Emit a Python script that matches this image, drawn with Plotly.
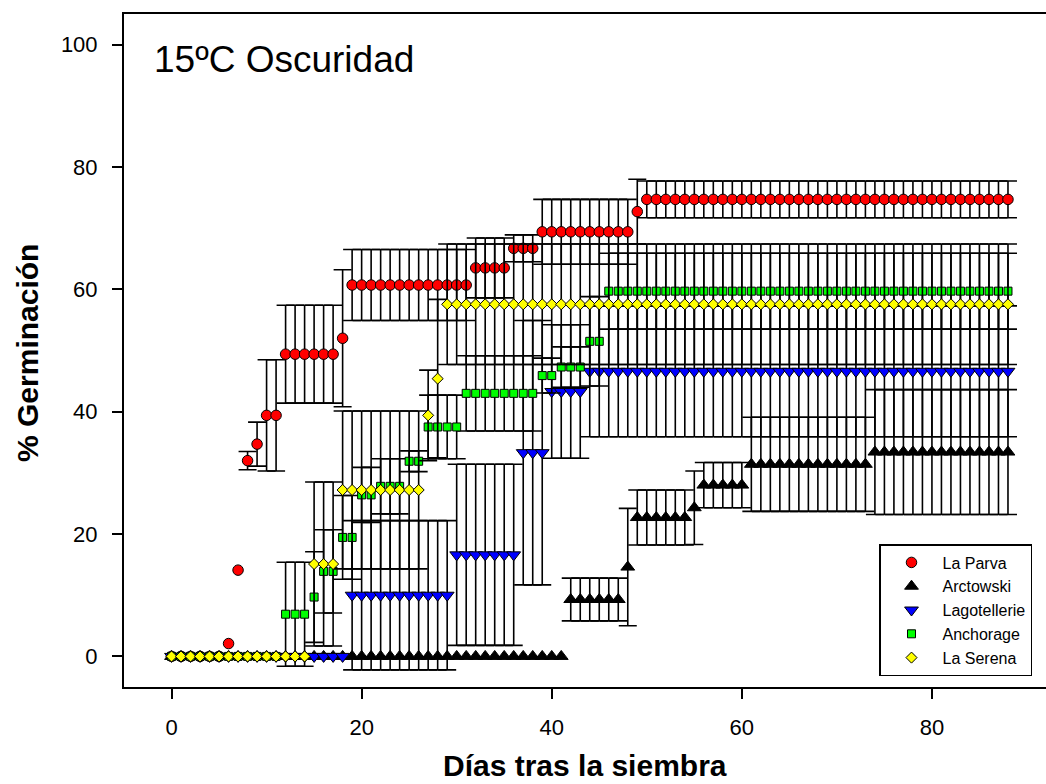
import plotly.graph_objects as go

# Germination time course at 15 ºC in darkness: mean % and error per day
DAYS = list(range(0, 89))

LA_PARVA = [
    0, 0, 0, 0, 0, 0, 2.1, 14.1, 32.0, 34.7,
    39.4, 39.4, 49.4, 49.4, 49.4, 49.4, 49.4, 49.4, 52.0, 60.7,
    60.7, 60.7, 60.7, 60.7, 60.7, 60.7, 60.7, 60.7, 60.7, 60.7,
    60.7, 60.7, 63.5, 63.5, 63.5, 63.5, 66.7, 66.7, 66.7, 69.4,
    69.4, 69.4, 69.4, 69.4, 69.4, 69.4, 69.4, 69.4, 69.4, 72.7,
    74.7, 74.7, 74.7, 74.7, 74.7, 74.7, 74.7, 74.7, 74.7, 74.7,
    74.7, 74.7, 74.7, 74.7, 74.7, 74.7, 74.7, 74.7, 74.7, 74.7,
    74.7, 74.7, 74.7, 74.7, 74.7, 74.7, 74.7, 74.7, 74.7, 74.7,
    74.7, 74.7, 74.7, 74.7, 74.7, 74.7, 74.7, 74.7, 74.7,
]
LA_PARVA_ERR = [
    0, 0, 0, 0, 0, 0, 0, 0, 1.5, 3.6,
    9.1, 9.1, 8.0, 8.0, 8.0, 8.0, 8.0, 8.0, 11.2, 5.8,
    5.8, 5.8, 5.8, 5.8, 5.8, 5.8, 5.8, 5.8, 5.8, 5.8,
    5.8, 5.8, 4.9, 4.9, 4.9, 4.9, 2.2, 2.2, 2.2, 5.3,
    5.3, 5.3, 5.3, 5.3, 5.3, 5.3, 5.3, 5.3, 5.3, 5.3,
    3.0, 3.0, 3.0, 3.0, 3.0, 3.0, 3.0, 3.0, 3.0, 3.0,
    3.0, 3.0, 3.0, 3.0, 3.0, 3.0, 3.0, 3.0, 3.0, 3.0,
    3.0, 3.0, 3.0, 3.0, 3.0, 3.0, 3.0, 3.0, 3.0, 3.0,
    3.0, 3.0, 3.0, 3.0, 3.0, 3.0, 3.0, 3.0, 3.0,
]

ARCTOWSKI = [
    0, 0, 0, 0, 0, 0, 0, 0, 0, 0,
    0, 0, 0, 0, 0, 0, 0, 0, 0, 0,
    0, 0, 0, 0, 0, 0, 0, 0, 0, 0,
    0, 0, 0, 0, 0, 0, 0, 0, 0, 0,
    0, 0, 9.3, 9.3, 9.3, 9.3, 9.3, 9.3, 14.6, 22.7,
    22.7, 22.7, 22.7, 22.7, 22.7, 24.3, 28.0, 28.0, 28.0, 28.0,
    28.0, 31.4, 31.4, 31.4, 31.4, 31.4, 31.4, 31.4, 31.4, 31.4,
    31.4, 31.4, 31.4, 31.4, 33.4, 33.4, 33.4, 33.4, 33.4, 33.4,
    33.4, 33.4, 33.4, 33.4, 33.4, 33.4, 33.4, 33.4, 33.4,
]
ARCTOWSKI_ERR = [
    0, 0, 0, 0, 0, 0, 0, 0, 0, 0,
    0, 0, 0, 0, 0, 0, 0, 0, 0, 0,
    0, 0, 0, 0, 0, 0, 0, 0, 0, 0,
    0, 0, 0, 0, 0, 0, 0, 0, 0, 0,
    0, 0, 3.5, 3.5, 3.5, 3.5, 3.5, 3.5, 9.6, 4.5,
    4.5, 4.5, 4.5, 4.5, 4.5, 6.0, 3.7, 3.7, 3.7, 3.7,
    3.7, 7.7, 7.7, 7.7, 7.7, 7.7, 7.7, 7.7, 7.7, 7.7,
    7.7, 7.7, 7.7, 7.7, 10.2, 10.2, 10.2, 10.2, 10.2, 10.2,
    10.2, 10.2, 10.2, 10.2, 10.2, 10.2, 10.2, 10.2, 10.2,
]

LAGOTELLERIE = [
    0, 0, 0, 0, 0, 0, 0, 0, 0, 0,
    0, 0, 0, 0, 0, 0, 0, 0, 0, 10.0,
    10.0, 10.0, 10.0, 10.0, 10.0, 10.0, 10.0, 10.0, 10.0, 10.0,
    16.6, 16.6, 16.6, 16.6, 16.6, 16.6, 16.6, 33.3, 33.3, 33.3,
    43.3, 43.3, 43.3, 43.3, 46.6, 46.6, 46.6, 46.6, 46.6, 46.6,
    46.6, 46.6, 46.6, 46.6, 46.6, 46.6, 46.6, 46.6, 46.6, 46.6,
    46.6, 46.6, 46.6, 46.6, 46.6, 46.6, 46.6, 46.6, 46.6, 46.6,
    46.6, 46.6, 46.6, 46.6, 46.6, 46.6, 46.6, 46.6, 46.6, 46.6,
    46.6, 46.6, 46.6, 46.6, 46.6, 46.6, 46.6, 46.6, 46.6,
]
LAGOTELLERIE_ERR = [
    0, 0, 0, 0, 0, 0, 0, 0, 0, 0,
    0, 0, 0, 0, 0, 0, 0, 0, 0, 12.2,
    12.2, 12.2, 12.2, 12.2, 12.2, 12.2, 12.2, 12.2, 12.2, 12.2,
    14.8, 14.8, 14.8, 14.8, 14.8, 14.8, 14.8, 21.6, 21.6, 21.6,
    10.9, 10.9, 10.9, 10.9, 10.7, 10.7, 10.7, 10.7, 10.7, 10.7,
    10.7, 10.7, 10.7, 10.7, 10.7, 10.7, 10.7, 10.7, 10.7, 10.7,
    10.7, 10.7, 10.7, 10.7, 10.7, 10.7, 10.7, 10.7, 10.7, 10.7,
    10.7, 10.7, 10.7, 10.7, 10.7, 10.7, 10.7, 10.7, 10.7, 10.7,
    10.7, 10.7, 10.7, 10.7, 10.7, 10.7, 10.7, 10.7, 10.7,
]

ANCHORAGE = [
    0, 0, 0, 0, 0, 0, 0, 0, 0, 0,
    0, 0, 6.9, 6.9, 6.9, 9.7, 13.9, 13.9, 19.45, 19.45,
    26.4, 26.4, 27.8, 27.8, 27.8, 31.9, 31.9, 37.5, 37.5, 37.5,
    37.5, 43.0, 43.0, 43.0, 43.0, 43.0, 43.0, 43.0, 43.0, 45.9,
    45.9, 47.3, 47.3, 47.3, 51.5, 51.5, 59.7, 59.7, 59.7, 59.7,
    59.7, 59.7, 59.7, 59.7, 59.7, 59.7, 59.7, 59.7, 59.7, 59.7,
    59.7, 59.7, 59.7, 59.7, 59.7, 59.7, 59.7, 59.7, 59.7, 59.7,
    59.7, 59.7, 59.7, 59.7, 59.7, 59.7, 59.7, 59.7, 59.7, 59.7,
    59.7, 59.7, 59.7, 59.7, 59.7, 59.7, 59.7, 59.7, 59.7,
]
ANCHORAGE_ERR = [
    0, 0, 0, 0, 0, 0, 0, 0, 0, 0,
    0, 0, 8.5, 8.5, 8.5, 7.4, 6.8, 6.8, 6.85, 6.85,
    4.5, 4.5, 4.5, 4.5, 4.5, 1.7, 1.7, 5.2, 5.2, 5.2,
    5.2, 6.15, 6.15, 6.15, 6.15, 6.15, 6.15, 6.15, 6.15, 2.85,
    2.85, 3.3, 3.3, 3.3, 7.3, 7.3, 6.2, 6.2, 6.2, 6.2,
    6.2, 6.2, 6.2, 6.2, 6.2, 6.2, 6.2, 6.2, 6.2, 6.2,
    6.2, 6.2, 6.2, 6.2, 6.2, 6.2, 6.2, 6.2, 6.2, 6.2,
    6.2, 6.2, 6.2, 6.2, 6.2, 6.2, 6.2, 6.2, 6.2, 6.2,
    6.2, 6.2, 6.2, 6.2, 6.2, 6.2, 6.2, 6.2, 6.2,
]

LA_SERENA = [
    0, 0, 0, 0, 0, 0, 0, 0, 0, 0,
    0, 0, 0, 0, 0, 15.1, 15.1, 15.1, 27.2, 27.2,
    27.2, 27.2, 27.2, 27.2, 27.2, 27.2, 27.2, 39.4, 45.4, 57.55,
    57.55, 57.55, 57.55, 57.55, 57.55, 57.55, 57.55, 57.55, 57.55, 57.55,
    57.55, 57.55, 57.55, 57.55, 57.55, 57.55, 57.55, 57.55, 57.55, 57.55,
    57.55, 57.55, 57.55, 57.55, 57.55, 57.55, 57.55, 57.55, 57.55, 57.55,
    57.55, 57.55, 57.55, 57.55, 57.55, 57.55, 57.55, 57.55, 57.55, 57.55,
    57.55, 57.55, 57.55, 57.55, 57.55, 57.55, 57.55, 57.55, 57.55, 57.55,
    57.55, 57.55, 57.55, 57.55, 57.55, 57.55, 57.55, 57.55, 57.55,
]
LA_SERENA_ERR = [
    0, 0, 0, 0, 0, 0, 0, 0, 0, 0,
    0, 0, 0, 0, 0, 13.4, 13.4, 13.4, 12.9, 12.9,
    12.9, 12.9, 12.9, 12.9, 12.9, 12.9, 12.9, 7.4, 12.95, 9.85,
    9.85, 9.85, 9.85, 9.85, 9.85, 9.85, 9.85, 9.85, 9.85, 9.85,
    9.85, 9.85, 9.85, 9.85, 9.85, 9.85, 9.85, 9.85, 9.85, 9.85,
    9.85, 9.85, 9.85, 9.85, 9.85, 9.85, 9.85, 9.85, 9.85, 9.85,
    9.85, 9.85, 9.85, 9.85, 9.85, 9.85, 9.85, 9.85, 9.85, 9.85,
    9.85, 9.85, 9.85, 9.85, 9.85, 9.85, 9.85, 9.85, 9.85, 9.85,
    9.85, 9.85, 9.85, 9.85, 9.85, 9.85, 9.85, 9.85, 9.85,
]

X_TICKS = [0, 20, 40, 60, 80]
Y_TICKS = [0, 20, 40, 60, 80, 100]

SERIES = [
    ("La Parva", LA_PARVA, LA_PARVA_ERR, "circle", "#ff0000", 10.5),
    ("Arctowski", ARCTOWSKI, ARCTOWSKI_ERR, "triangle-up", "#000000", 12),
    ("Lagotellerie", LAGOTELLERIE, LAGOTELLERIE_ERR, "triangle-down", "#0000ff", 12),
    ("Anchorage", ANCHORAGE, ANCHORAGE_ERR, "square", "#00ff00", 8),
    ("La Serena", LA_SERENA, LA_SERENA_ERR, "diamond", "#ffff00", 8.5),
]

FONT = "Liberation Sans, Arial, Helvetica, sans-serif"
W, H = 1046, 784
ML, MR, MT, MB = 124, 0, 14, 97
PW, PH = W - ML - MR, H - MT - MB


def px_x(px):
    return (px - ML) / PW


def px_y(py):
    return (H - MB - py) / PH


fig = go.Figure()

for name, vals, errs, symbol, color, size in SERIES:
    marker = dict(symbol=symbol, color=color, size=size,
                  line=dict(color="#000000", width=1))
    # days without spread: markers only (also carries the legend entry)
    flat = [i for i, e in enumerate(errs) if e == 0]
    fig.add_trace(go.Scatter(
        x=[DAYS[i] for i in flat], y=[vals[i] for i in flat],
        mode="markers", name=name, legendgroup=name,
        marker=marker, cliponaxis=False,
    ))
    # days with spread: markers plus error bars
    spread = [i for i, e in enumerate(errs) if e > 0]
    fig.add_trace(go.Scatter(
        x=[DAYS[i] for i in spread], y=[vals[i] for i in spread],
        mode="markers", name=name, legendgroup=name, showlegend=False,
        marker=marker, cliponaxis=False,
        error_y=dict(type="data", array=[errs[i] for i in spread],
                     visible=True, color="#000000", thickness=1.6, width=9),
    ))

fig.update_layout(
    width=W, height=H,
    margin=dict(l=ML, r=MR, t=MT, b=MB, autoexpand=False),
    paper_bgcolor="#ffffff", plot_bgcolor="#ffffff",
    font=dict(family=FONT, color="#000000", size=22),
    showlegend=True,
    legend=dict(
        x=px_x(879), y=px_y(544), xanchor="left", yanchor="top",
        bgcolor="#ffffff", bordercolor="#000000", borderwidth=1.5,
        font=dict(family=FONT, size=16, color="#000000"),
        itemwidth=52, tracegroupgap=0, entrywidth=220,
    ),
    xaxis=dict(
        range=[-5, 92], tickvals=X_TICKS, ticks="outside", ticklen=10,
        tickwidth=1.8, tickcolor="#000000", showline=True, linewidth=2,
        linecolor="#000000", mirror=True, showgrid=False, zeroline=False,
        tickfont=dict(family=FONT, size=22), ticklabelstandoff=10,
    ),
    yaxis=dict(
        range=[-5, 105], tickvals=Y_TICKS, ticks="outside", ticklen=10,
        tickwidth=1.8, tickcolor="#000000", showline=True, linewidth=2,
        linecolor="#000000", mirror=False, showgrid=False, zeroline=False,
        tickfont=dict(family=FONT, size=22), ticklabelstandoff=10,
    ),
    annotations=[
        dict(text="15ºC Oscuridad", xref="paper", yref="paper",
             x=px_x(152), y=px_y(60), xanchor="left", yanchor="middle",
             showarrow=False, font=dict(family=FONT, size=37)),
        dict(text="<b>Días tras la siembra</b>", xref="paper", yref="paper",
             x=0.5, y=px_y(765), xanchor="center", yanchor="middle",
             showarrow=False, font=dict(family=FONT, size=30)),
        dict(text="<b>% Germinación</b>", xref="paper", yref="paper",
             x=px_x(27), y=px_y(353), xanchor="center", yanchor="middle",
             textangle=-90, showarrow=False, font=dict(family=FONT, size=30)),
    ],
)

fig.write_html("out.html")
